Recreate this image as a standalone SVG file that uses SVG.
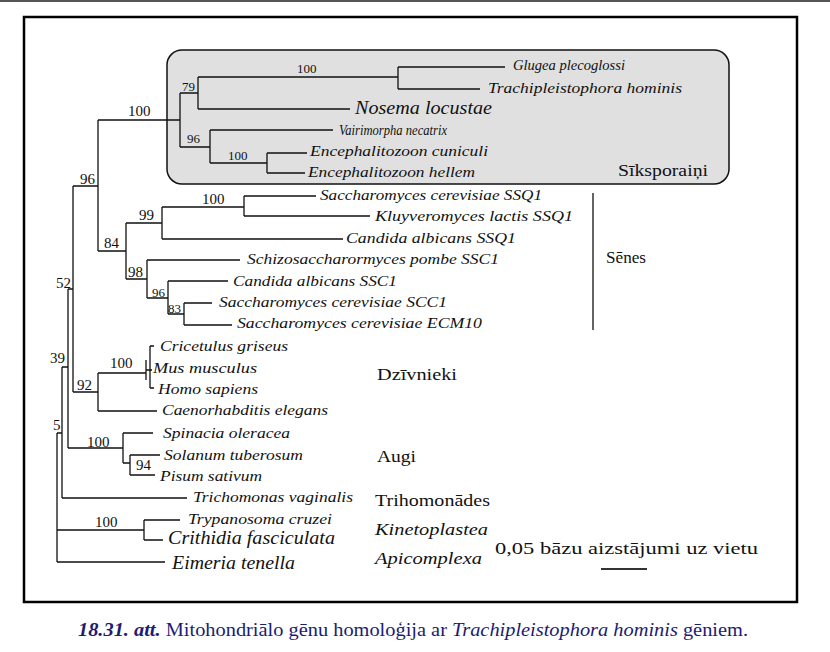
<svg xmlns="http://www.w3.org/2000/svg" width="830" height="652" viewBox="0 0 830 652" font-family="'Liberation Serif', 'DejaVu Serif', serif">
<style>
.t{font-style:italic;font-size:15px;fill:#111}
.big{font-size:19px}
.sm{font-size:14px}
.g{font-size:17px;fill:#111}
.gi{font-style:italic}
.b{font-size:15px;fill:#111}
.bs{font-size:13px}
.c{fill:none;stroke:#111;stroke-width:1.3}
.cap{font-size:19px;fill:#1c1c72}
</style>
<rect width="830" height="652" fill="#fff"/>
<line x1="0" y1="1" x2="830" y2="1" stroke="#555" stroke-width="2"/>
<rect id="frame" x="24" y="17" width="773" height="585" fill="none" stroke="#000" stroke-width="2.5"/>
<rect id="microsporidia-box" x="167" y="50" width="562" height="134" rx="15" fill="#e0e0e0" stroke="#111" stroke-width="1.5"/>

<g id="connectors" class="c">
<path d="M98 120H180M180 93V147M180 93H198M198 77V109M198 77H398M398 67V89M398 67H505M398 89H480M198 109H350M180 147H210M210 130V163M210 130H333M210 163H267M267 153V173M267 153H307M267 173H305"/>
<path d="M98 120V251M73 186H98M98 251H126M126 223V279M126 223H162M162 207V239M162 207H244M244 196V216M244 196H316M244 216H370M162 239H343M126 279H147M147 260V298M147 260H240M147 298H168M168 281V314M168 281H228M168 314H184M184 303V325M184 303H212M184 325H232"/>
<path d="M73 186V392M68 289H73M68 289V448M62 367H68M62 367V498M57 433H62M57 433V562"/>
<path d="M73 392H98M98 373V411M98 373H146M146 360V380M150 346V388M150 346H154M150 388H154M146 370H152M98 411H157"/>
<path d="M68 448H123M123 433V463M123 433H153M123 463H130M130 455V475M130 455H160M130 475H155"/>
<path d="M62 498H187M57 530H144M144 520V540M144 520H180M144 540H163M57 562H165"/>
<path d="M593 193V330"/>
</g>

<g id="bootstrap">
<text class="b" x="128" y="116">100</text>
<text class="b bs" x="182" y="91">79</text>
<text class="b bs" x="297" y="73">100</text>
<text class="b bs" x="187" y="143">96</text>
<text class="b bs" x="228" y="160">100</text>
<text class="b" x="80" y="184">96</text>
<text class="b" x="202" y="204">100</text>
<text class="b" x="139" y="220">99</text>
<text class="b" x="104" y="248">84</text>
<text class="b" x="128" y="277">98</text>
<text class="b bs" x="152" y="297">96</text>
<text class="b bs" x="168" y="313">83</text>
<text class="b" x="56" y="288">52</text>
<text class="b" x="50" y="363">39</text>
<text class="b" x="77" y="390">92</text>
<text class="b" x="110" y="368">100</text>
<text class="b" x="53" y="430">5</text>
<text class="b" x="87" y="447">100</text>
<text class="b" x="136" y="470">94</text>
<text class="b" x="95" y="527">100</text>
</g>

<g id="n-glugea"><text class="t" x="513" y="70" textLength="112" lengthAdjust="spacingAndGlyphs">Glugea plecoglossi</text></g>
<g id="n-trachipleistophora"><text class="t" x="488" y="93" textLength="194" lengthAdjust="spacingAndGlyphs">Trachipleistophora hominis</text></g>
<g id="n-nosema"><text class="t big" x="355" y="114" textLength="137" lengthAdjust="spacingAndGlyphs">Nosema locustae</text></g>
<g id="n-vairimorpha"><text class="t" x="339" y="135" font-size="14" textLength="108" lengthAdjust="spacingAndGlyphs">Vairimorpha necatrix</text></g>
<g id="n-ecuniculi"><text class="t" x="310" y="156" textLength="178" lengthAdjust="spacingAndGlyphs">Encephalitozoon cuniculi</text></g>
<g id="n-ehellem"><text class="t" x="308" y="177" textLength="167" lengthAdjust="spacingAndGlyphs">Encephalitozoon hellem</text></g>
<g id="g-siksporaini"><text class="g" x="618" y="176" textLength="90" lengthAdjust="spacingAndGlyphs">Sīksporaiņi</text></g>

<g id="n-scer-ssq1"><text class="t" x="320" y="200" textLength="222" lengthAdjust="spacingAndGlyphs">Saccharomyces cerevisiae SSQ1</text></g>
<g id="n-klactis"><text class="t" x="375" y="221" textLength="198" lengthAdjust="spacingAndGlyphs">Kluyveromyces lactis SSQ1</text></g>
<g id="n-calb-ssq1"><text class="t" x="346" y="243" textLength="170" lengthAdjust="spacingAndGlyphs">Candida albicans SSQ1</text></g>
<g id="n-spombe"><text class="t" x="247" y="264" textLength="252" lengthAdjust="spacingAndGlyphs">Schizosaccharormyces pombe SSC1</text></g>
<g id="n-calb-ssc1"><text class="t" x="233" y="286" textLength="164" lengthAdjust="spacingAndGlyphs">Candida albicans SSC1</text></g>
<g id="n-scer-scc1"><text class="t" x="219" y="307" textLength="228" lengthAdjust="spacingAndGlyphs">Saccharomyces cerevisiae SCC1</text></g>
<g id="n-scer-ecm10"><text class="t" x="237" y="328" textLength="245" lengthAdjust="spacingAndGlyphs">Saccharomyces cerevisiae ECM10</text></g>
<g id="g-senes"><text class="g" x="606" y="263" textLength="40" lengthAdjust="spacingAndGlyphs">Sēnes</text></g>

<g id="n-cricetulus"><text class="t" x="160" y="351" textLength="128" lengthAdjust="spacingAndGlyphs">Cricetulus griseus</text></g>
<g id="n-mus"><text class="t" x="153" y="373" textLength="104" lengthAdjust="spacingAndGlyphs">Mus musculus</text></g>
<g id="n-homo"><text class="t" x="158" y="394" textLength="100" lengthAdjust="spacingAndGlyphs">Homo sapiens</text></g>
<g id="n-caenorhabditis"><text class="t" x="162" y="415" textLength="166" lengthAdjust="spacingAndGlyphs">Caenorhabditis elegans</text></g>
<g id="g-dzivnieki"><text class="g" x="377" y="380" textLength="80" lengthAdjust="spacingAndGlyphs">Dzīvnieki</text></g>

<g id="n-spinacia"><text class="t" x="163" y="438" textLength="127" lengthAdjust="spacingAndGlyphs">Spinacia oleracea</text></g>
<g id="n-solanum"><text class="t" x="164" y="460" textLength="139" lengthAdjust="spacingAndGlyphs">Solanum tuberosum</text></g>
<g id="n-pisum"><text class="t" x="160" y="481" textLength="102" lengthAdjust="spacingAndGlyphs">Pisum sativum</text></g>
<g id="g-augi"><text class="g" x="377" y="462" textLength="39" lengthAdjust="spacingAndGlyphs">Augi</text></g>

<g id="n-trichomonas"><text class="t" x="193" y="502" textLength="160" lengthAdjust="spacingAndGlyphs">Trichomonas vaginalis</text></g>
<g id="g-trihomonades"><text class="g" x="375" y="506" textLength="115" lengthAdjust="spacingAndGlyphs">Trihomonādes</text></g>
<g id="n-trypanosoma"><text class="t sm" x="188" y="524" textLength="144" lengthAdjust="spacingAndGlyphs">Trypanosoma cruzei</text></g>
<g id="n-crithidia"><text class="t big" x="168" y="544" textLength="167" lengthAdjust="spacingAndGlyphs">Crithidia fasciculata</text></g>
<g id="g-kinetoplastea"><text class="g gi" x="375" y="535" textLength="113" lengthAdjust="spacingAndGlyphs">Kinetoplastea</text></g>
<g id="n-eimeria"><text class="t big" x="172" y="569" textLength="123" lengthAdjust="spacingAndGlyphs">Eimeria tenella</text></g>
<g id="g-apicomplexa"><text class="g gi" x="375" y="564" textLength="107" lengthAdjust="spacingAndGlyphs">Apicomplexa</text></g>

<g id="scale">
<text class="g" x="495" y="554" textLength="263" lengthAdjust="spacingAndGlyphs">0,05 bāzu aizstājumi uz vietu</text>
<line x1="601" y1="569" x2="647" y2="569" stroke="#333" stroke-width="2"/>
</g>

<g id="caption">
<text class="cap" x="78" y="636" textLength="670" lengthAdjust="spacingAndGlyphs"><tspan font-weight="bold" font-style="italic">18.31. att.</tspan> Mitohondriālo gēnu homoloģija ar <tspan font-style="italic">Trachipleistophora hominis</tspan> gēniem.</text>
</g>
</svg>
